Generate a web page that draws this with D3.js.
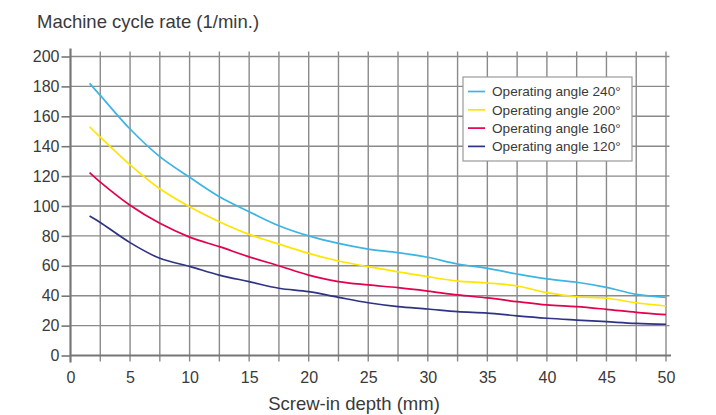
<!DOCTYPE html>
<html>
<head>
<meta charset="utf-8">
<script src="https://cdn.jsdelivr.net/npm/d3@7"></script>
<style>
  html, body { margin: 0; padding: 0; background: #fff; }
  svg { display: block; font-family: "Liberation Sans", Arial, sans-serif; }
</style>
</head>
<body>
<div id="chart"></div>
<script>
// --- Data ---
var depths = [1.6, 2.5, 5, 7.5, 10, 12.5, 15, 17.5, 20, 22.5, 25, 27.5, 30, 32.5, 35, 37.5, 40, 42.5, 45, 47.5, 50];
var angle240 = [182, 174, 151.5, 133, 119.2, 106.2, 96.2, 86.8, 80, 75, 71.2, 68.8, 65.7, 61.2, 58.3, 54.5, 51.2, 49, 45.6, 40.9, 38.9];
var angle200 = [153, 146, 127.5, 111.5, 99.5, 89.5, 81, 74.5, 68.3, 63.2, 59.4, 56, 52.7, 49.8, 48.5, 46.5, 42, 39.3, 38.3, 35.3, 33.1];
var angle160 = [122.3, 116, 100.5, 88.4, 79.2, 72.8, 66, 60, 53.8, 49.4, 47.2, 45.4, 43.1, 40.5, 38.5, 36, 33.8, 32.7, 30.9, 28.9, 27.3];
var angle120 = [93.3, 89, 75.5, 65, 59.6, 53.8, 49.4, 45, 42.7, 38.9, 35.3, 32.7, 31.1, 29.3, 28.4, 26.5, 24.9, 23.7, 22.6, 21.5, 20.9];
var seriesNames = ['Operating angle 240°', 'Operating angle 200°', 'Operating angle 160°', 'Operating angle 120°'];
var seriesColors = ['#3cb4e5', '#ffe500', '#e2004f', '#2e3383'];
var xTicks = [0, 5, 10, 15, 20, 25, 30, 35, 40, 45, 50];
var yTicks = [0, 20, 40, 60, 80, 100, 120, 140, 160, 180, 200];

(function () {
  'use strict';

  var width = 716, height = 415;
  var margin = { top: 56.5, right: 50, bottom: 59.5, left: 70.5 };
  var innerW = width - margin.left - margin.right;
  var innerH = height - margin.top - margin.bottom;

  var svg = d3.select('#chart').append('svg')
    .attr('width', width)
    .attr('height', height);

  var g = svg.append('g')
    .attr('transform', 'translate(' + margin.left + ',' + margin.top + ')');

  var x = d3.scaleLinear().domain([0, 50]).range([0, innerW]);
  var y = d3.scaleLinear().domain([0, 200]).range([innerH, 0]);

  var gridColor = '#8a8a8a';
  var axisColor = '#777';
  var textColor = '#3a3a3a';

  // --- Grid: vertical lines every 2.5 mm, horizontal every 20 ---
  var vGrid = d3.range(2.5, 50.01, 2.5);
  g.append('g').selectAll('line')
    .data(vGrid)
    .join('line')
    .attr('x1', function (d) { return x(d); })
    .attr('x2', function (d) { return x(d); })
    .attr('y1', -5)
    .attr('y2', innerH + 6)
    .attr('stroke', gridColor)
    .attr('stroke-width', 1.4);

  g.append('g').selectAll('line')
    .data(yTicks.slice(1))
    .join('line')
    .attr('x1', 0)
    .attr('x2', innerW + 3.5)
    .attr('y1', function (d) { return y(d); })
    .attr('y2', function (d) { return y(d); })
    .attr('stroke', gridColor)
    .attr('stroke-width', 1.4);

  // --- Axes ---
  var yAxis = g.append('g')
    .call(d3.axisLeft(y).tickValues(yTicks).tickSize(9).tickPadding(2));
  var xAxis = g.append('g')
    .attr('transform', 'translate(0,' + innerH + ')')
    .call(d3.axisBottom(x).tickValues(xTicks).tickSize(0).tickPadding(16));

  [yAxis, xAxis].forEach(function (ax) {
    ax.select('.domain').remove();
    ax.selectAll('line').attr('stroke', axisColor).attr('stroke-width', 1.6);
    ax.selectAll('text')
      .attr('fill', textColor)
      .attr('font-size', '16px')
      .attr('font-family', '"Liberation Sans", Arial, sans-serif');
  });

  g.append('line')
    .attr('x1', 0).attr('x2', 0)
    .attr('y1', -8).attr('y2', innerH + 7)
    .attr('stroke', axisColor).attr('stroke-width', 2.2);
  g.append('line')
    .attr('x1', 0).attr('x2', innerW + 5)
    .attr('y1', innerH).attr('y2', innerH)
    .attr('stroke', axisColor).attr('stroke-width', 2.2);

  // --- Lines ---
  var seriesValues = [angle240, angle200, angle160, angle120];
  var line = d3.line()
    .x(function (d) { return x(d[0]); })
    .y(function (d) { return y(d[1]); })
    .curve(d3.curveCatmullRom.alpha(0.5));

  seriesValues.forEach(function (vals, i) {
    g.append('path')
      .datum(depths.map(function (dep, j) { return [dep, vals[j]]; }))
      .attr('d', line)
      .attr('fill', 'none')
      .attr('stroke', seriesColors[i])
      .attr('stroke-width', 1.7);
  });

  // --- Legend ---
  var lg = svg.append('g').attr('transform', 'translate(463,77)');
  lg.append('rect')
    .attr('width', 169).attr('height', 84)
    .attr('fill', '#fff')
    .attr('stroke', '#9a9a9a')
    .attr('stroke-width', 1.2);
  seriesNames.forEach(function (name, i) {
    var row = lg.append('g').attr('transform', 'translate(0,' + (14.5 + i * 18.3) + ')');
    row.append('line')
      .attr('x1', 5).attr('x2', 22)
      .attr('stroke', seriesColors[i]).attr('stroke-width', 1.7);
    row.append('text')
      .attr('x', 29).attr('dy', '0.35em')
      .attr('font-size', '13.6px')
      .attr('fill', textColor)
      .text(name);
  });

  // --- Titles ---
  svg.append('text')
    .attr('x', 37).attr('y', 28)
    .attr('font-size', '18.5px')
    .attr('fill', textColor)
    .text('Machine cycle rate (1/min.)');

  svg.append('text')
    .attr('x', 354).attr('y', 410)
    .attr('text-anchor', 'middle')
    .attr('font-size', '18.5px')
    .attr('fill', textColor)
    .text('Screw-in depth (mm)');
})();
</script>
</body>
</html>
